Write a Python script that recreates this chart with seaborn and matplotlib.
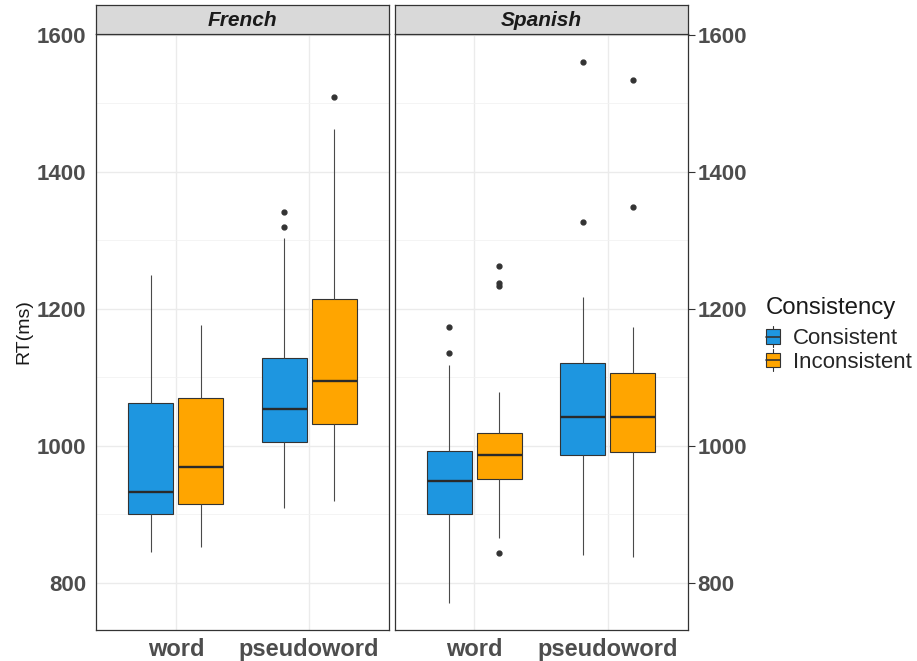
import numpy as np
import pandas as pd
import matplotlib
matplotlib.use("Agg")
import matplotlib.pyplot as plt
from matplotlib.patches import Patch, Rectangle
from matplotlib.lines import Line2D
from matplotlib.legend_handler import HandlerBase
from matplotlib.ticker import MultipleLocator
import seaborn as sns

# ---- data -------------------------------------------------------------
languages = ["French", "Spanish"]
lexicality = ["word", "pseudoword"]
consistency = ["Consistent", "Inconsistent"]
palette = {"Consistent": "#1E96E0", "Inconsistent": "#FFA500"}

# five-number summaries per lexicality: lower whisker, Q1, median, Q3, upper whisker (RT, ms)
french_consistent = [[845, 900, 933, 1062, 1249], [909, 1005, 1054, 1128, 1304]]
french_inconsistent = [[852, 915, 969, 1070, 1177], [919, 1032, 1094, 1215, 1462]]
spanish_consistent = [[771, 901, 948, 993, 1118], [841, 987, 1042, 1121, 1217]]
spanish_inconsistent = [[865, 951, 986, 1018, 1078], [838, 991, 1042, 1106, 1173]]

# outlying observations per lexicality
french_consistent_out = [[], [1319, 1342]]
french_inconsistent_out = [[], [1509]]
spanish_consistent_out = [[1135, 1173], [1327, 1561]]
spanish_inconsistent_out = [[844, 1234, 1238, 1262], [1349, 1534]]

summaries = {
    ("French", "Consistent"): (french_consistent, french_consistent_out),
    ("French", "Inconsistent"): (french_inconsistent, french_inconsistent_out),
    ("Spanish", "Consistent"): (spanish_consistent, spanish_consistent_out),
    ("Spanish", "Inconsistent"): (spanish_inconsistent, spanish_inconsistent_out),
}

# long table whose quartiles / whiskers reproduce each summary
rows = []
for (lang, cons), (stats, outs) in summaries.items():
    for lex, (lo, q1, med, q3, hi), extra in zip(lexicality, stats, outs):
        values = [lo] + [q1] * 10 + [med] * 10 + [q3] * 10 + [hi] + list(extra)
        for v in values:
            rows.append({"Language": lang, "Lexicality": lex,
                         "Consistency": cons, "RT": v})
df = pd.DataFrame(rows)

# ---- style ------------------------------------------------------------
sns.set_style("white")
plt.rcParams["font.family"] = ["Liberation Sans", "DejaVu Sans"]

W, H = 917, 661
fig = plt.figure(figsize=(W / 100, H / 100), dpi=100)

panel_x = [96, 394.5]
panel_w = 293
panel_top, panel_bot = 33.5, 630
strip_top = 5

axes = []
for i, lang in enumerate(languages):
    ax = fig.add_axes([panel_x[i] / W, 1 - panel_bot / H,
                       panel_w / W, (panel_bot - panel_top) / H])
    ax.set_axisbelow(True)
    sns.boxplot(
        data=df[df["Language"] == lang], x="Lexicality", y="RT",
        hue="Consistency", order=lexicality, hue_order=consistency,
        palette=palette, saturation=1, width=0.75, gap=0.1,
        linecolor="#333333", linewidth=0.8, fliersize=3.5, showcaps=False,
        flierprops=dict(marker="o", markerfacecolor="#333333",
                        markeredgecolor="#333333"),
        medianprops=dict(linewidth=1.7, color="#2A2A2A"),
        whiskerprops=dict(color="#4A4A4A", linewidth=0.8),
        legend=False, ax=ax,
    )
    ax.set_xlim(-0.6, 1.6)
    ax.set_ylim(731, 1602)
    ax.yaxis.set_major_locator(MultipleLocator(200))
    ax.yaxis.set_minor_locator(MultipleLocator(100))
    ax.grid(True, which="major", color="#EBEBEB", linewidth=1.0)
    ax.grid(True, which="minor", axis="y", color="#F2F2F2", linewidth=0.6)
    for sp in ax.spines.values():
        sp.set_visible(True)
        sp.set_color("#333333")
        sp.set_linewidth(0.9)
    ax.set_xlabel("")
    ax.set_ylabel("")
    ax.tick_params(axis="x", which="major", length=4, width=0.8,
                   color="#333333", labelsize=17, labelcolor="#4D4D4D", pad=2)
    ax.tick_params(axis="y", which="major", length=5, width=0.8,
                   color="#333333", labelsize=16, labelcolor="#4D4D4D", pad=2)
    ax.tick_params(axis="y", which="minor", length=0)
    for t in ax.get_xticklabels():
        t.set_fontweight("bold")
    if i == 0:
        ax.set_ylabel("RT(ms)", fontsize=14, color="#1A1A1A", labelpad=3)
    else:
        ax.yaxis.tick_right()
        ax.tick_params(axis="y", which="major", length=5, width=0.8,
                       color="#333333", labelsize=16, labelcolor="#4D4D4D",
                       pad=2)
    for t in ax.get_yticklabels():
        t.set_fontweight("bold")

    # facet strip
    sax = fig.add_axes([panel_x[i] / W, 1 - panel_top / H,
                        panel_w / W, (panel_top - strip_top) / H])
    sax.set_facecolor("#D9D9D9")
    sax.set_xticks([])
    sax.set_yticks([])
    for sp in sax.spines.values():
        sp.set_visible(True)
        sp.set_color("#333333")
        sp.set_linewidth(0.9)
    sax.text(0.5, 0.47, lang, transform=sax.transAxes, ha="center",
             va="center", fontsize=15, fontweight="bold", fontstyle="italic",
             color="#1A1A1A")
    axes.append(ax)


# ---- legend with box-shaped keys --------------------------------------
class BoxKey(HandlerBase):
    def create_artists(self, legend, orig_handle, xdescent, ydescent,
                       width, height, fontsize, trans):
        x0, y0 = -xdescent, -ydescent
        fc = orig_handle.get_facecolor()
        lw = 0.8
        ec = "#333333"
        rect = Rectangle((x0, y0 + 0.16 * height), width, 0.68 * height,
                         facecolor=fc, edgecolor=ec, lw=lw, transform=trans)
        med = Line2D([x0, x0 + width], [y0 + 0.5 * height] * 2,
                     color=ec, lw=1.2, transform=trans)
        wlo = Line2D([x0 + width / 2] * 2, [y0, y0 + 0.16 * height],
                     color=ec, lw=lw, transform=trans)
        whi = Line2D([x0 + width / 2] * 2, [y0 + 0.84 * height, y0 + height],
                     color=ec, lw=lw, transform=trans)
        return [wlo, whi, rect, med]


handles = [Patch(facecolor=palette[c], edgecolor="#333333") for c in consistency]
leg = fig.legend(
    handles, consistency, title="Consistency",
    loc="upper left", bbox_to_anchor=(755 / W, 1 - 286 / H),
    frameon=False, fontsize=16, title_fontsize=17.3,
    handler_map={Patch: BoxKey()}, handlelength=0.62, handleheight=1.1,
    handletextpad=0.6, labelspacing=0.0, borderpad=0, alignment="left",
)
leg._legend_box.sep = 5
leg.get_title().set_color("#1A1A1A")

fig.savefig("out.png", dpi=100)
